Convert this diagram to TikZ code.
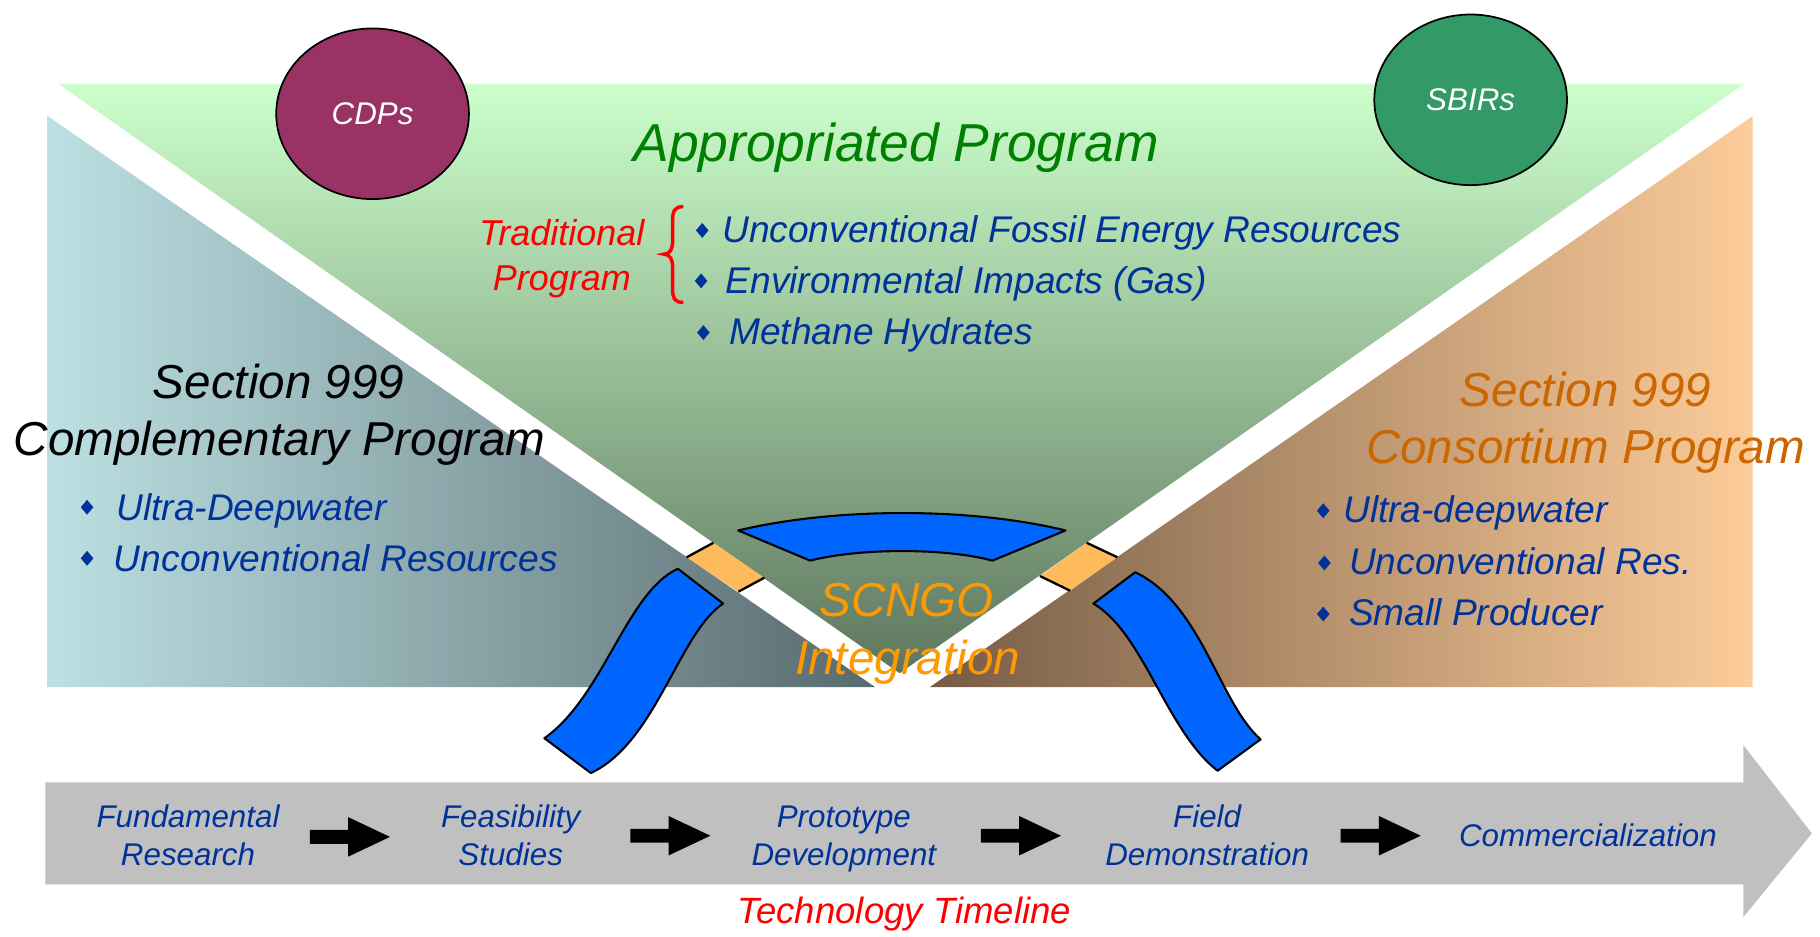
\documentclass[tikz,border=0pt]{standalone}
\usepackage{fontspec}
\setmainfont{Liberation Sans}
\usetikzlibrary{shapes.geometric}
\definecolor{textblue}{RGB}{0,51,153}
\definecolor{bandblue}{RGB}{0,102,255}
\definecolor{connorange}{RGB}{253,187,92}
\definecolor{apgreen}{RGB}{0,128,0}
\definecolor{conorange}{RGB}{204,102,0}
\definecolor{scngo}{RGB}{255,153,0}
\definecolor{cdp}{RGB}{153,51,102}
\definecolor{sbir}{RGB}{51,153,102}
\definecolor{tlgray}{RGB}{192,192,192}
\definecolor{blueL}{RGB}{188,224,227}
\definecolor{blueM}{RGB}{155,188,192}
\definecolor{blueR}{RGB}{88,106,110}
\definecolor{greenT}{RGB}{204,255,204}
\definecolor{greenB}{RGB}{94,118,94}
\definecolor{orL}{RGB}{118,92,70}
\definecolor{orM}{RGB}{192,152,115}
\definecolor{orR}{RGB}{252,204,153}
\tikzset{
  txt/.style={inner sep=0pt, anchor=base},
  aptxt/.style={txt, font=\fontsize{46}{50}\selectfont\itshape, text=apgreen},
  tradtxt/.style={txt, font=\fontsize{31}{36}\selectfont\itshape, text=red},
  listtxt/.style={txt, anchor=base west, font=\fontsize{32}{36}\selectfont\itshape, text=textblue},
  sectxt/.style={txt, font=\fontsize{41}{46}\selectfont\itshape},
  tltxt/.style={txt, font=\fontsize{27}{31}\selectfont\itshape, text=textblue},
  circtxt/.style={ellipse, draw=black, line width=1.5pt, inner sep=0pt, minimum width=166pt, minimum height=147pt, text=white, font=\fontsize{27}{30}\selectfont\itshape},
  bul/.style={diamond, fill=textblue, inner sep=0pt, minimum width=11pt, minimum height=13pt},
  band/.style={fill=bandblue, draw=black, line width=1.8pt, line join=round},
  conn/.style={draw=black, line width=2pt},
  blk/.style={fill=black}
}
\newcommand{\blkarrow}[2]{\fill[blk] (#1,#2) ++(0,-6) -- ++(33,0) -- ++(0,-11) -- ++(36,17) -- ++(-36,17) -- ++(0,-11) -- ++(-33,0) -- cycle;}
\begin{document}
\begin{tikzpicture}[x=1pt,y=-1pt]
\useasboundingbox (0,0) rectangle (1568,807);
\fill[white] (0,0) rectangle (1568,807);

% regions
\shade[left color=blueL, middle color=blueM, right color=blueR] (41,100) -- (754,592) -- (41,592) -- cycle;
\shade[top color=greenT, bottom color=greenB] (50,72) -- (1503,72) -- (775,580) -- cycle;
\shade[left color=orL, middle color=orM, right color=orR] (1510,100) -- (1510,592) -- (801,592) -- cycle;

% connector blocks on the stripes
\fill[connorange] (591.6,480.1) -- (614.6,467.6) -- (658.5,497.7) -- (636.1,509.8) -- cycle;
\draw[conn] (591.6,480.1) -- (614.6,467.6);
\draw[conn] (636.1,509.8) -- (658.5,497.7);
\fill[connorange] (962.6,480.1) -- (936.2,467.6) -- (896,496.3) -- (921.9,508.9) -- cycle;
\draw[conn] (936.2,467.6) -- (962.6,480.1);
\draw[conn] (896,496.3) -- (921.9,508.9);

% blue bands
\draw[band] (636,457) .. controls (720,437) and (836,437) .. (918,457) -- (855,483) .. controls (815,472) and (740,472) .. (698,483) -- cycle;
\draw[band] (584,490) -- (623,520) .. controls (585,545) and (565,640) .. (509,666) -- (469,636) .. controls (520,600) and (540,510) .. (584,490) -- cycle;
\draw[band] (978,493) -- (942,520) .. controls (985,545) and (1005,630) .. (1049,664) -- (1086,637) .. controls (1050,605) and (1035,520) .. (978,493) -- cycle;

% circles
\node[circtxt, fill=cdp] (cdps) at (321,98) {CDPs};
\node[circtxt, fill=sbir] (sbirs) at (1267,86) {SBIRs};

% appropriated program
\node[aptxt] (ap) at (772,139.5) {Appropriated Program};
\node[tradtxt] (trad1) at (484,211.7) {Traditional};
\node[tradtxt] (trad2) at (484,250.4) {Program};
\draw[red, line width=3pt] (588.7,178) .. controls (581,178) and (579.5,182) .. (579.5,190) -- (579.5,207) .. controls (579.5,215) and (577,219) .. (572,219) .. controls (577,219) and (579.5,223) .. (579.5,231) -- (579.5,249) .. controls (579.5,257) and (581,260.5) .. (588.7,260.5);
\node[bul] (b1) at (605,198.5) {};
\node[bul] (b2) at (604,242) {};
\node[bul] (b3) at (606,286.5) {};
\node[listtxt] (i1) at (622,209) {Unconventional Fossil Energy Resources};
\node[listtxt] (i2) at (625,252.7) {Environmental Impacts (Gas)};
\node[listtxt] (i3) at (628,297) {Methane Hydrates};

% complementary program
\node[sectxt] (cs1) at (240,343) {Section 999};
\node[sectxt] (cs2) at (241,392) {Complementary Program};
\node[bul] (b4) at (75,437) {};
\node[bul] (b5) at (75,481) {};
\node[listtxt] (i4) at (100,448) {Ultra-Deepwater};
\node[listtxt] (i5) at (98,492) {Unconventional Resources};

% consortium program
\node[sectxt, text=conorange] (co1) at (1366,350) {Section 999};
\node[sectxt, text=conorange] (co2) at (1366,399) {Consortium Program};
\node[bul] (b6) at (1140,440) {};
\node[bul] (b7) at (1141,485) {};
\node[bul] (b8) at (1140,529) {};
\node[listtxt] (i6) at (1157,450.5) {Ultra-deepwater};
\node[listtxt] (i7) at (1162,495) {Unconventional Res.};
\node[listtxt] (i8) at (1162,539) {Small Producer};

% SCNGO
\node[sectxt, text=scngo] (sc1) at (781,531) {SCNGO};
\node[sectxt, text=scngo] (sc2) at (782,581) {Integration};

% timeline
\fill[tlgray] (39,674) -- (1502,674) -- (1502,642) -- (1561,718) -- (1502,790) -- (1502,762) -- (39,762) -- cycle;
\node[tltxt] (t1a) at (162,712.5) {Fundamental};
\node[tltxt] (t1b) at (162,746) {Research};
\node[tltxt] (t2a) at (440,712.5) {Feasibility};
\node[tltxt] (t2b) at (440,746) {Studies};
\node[tltxt] (t3a) at (727,712.5) {Prototype};
\node[tltxt] (t3b) at (727,746) {Development};
\node[tltxt] (t4a) at (1040,712.5) {Field};
\node[tltxt] (t4b) at (1040,746) {Demonstration};
\node[tltxt] (t5) at (1368,729) {Commercialization};
\blkarrow{267}{721}
\blkarrow{543}{720}
\blkarrow{845}{720}
\blkarrow{1155}{720}
\node[txt, font=\fontsize{31.5}{35}\selectfont\itshape, text=red] (tt) at (779,796) {Technology Timeline};
\end{tikzpicture}
\end{document}
